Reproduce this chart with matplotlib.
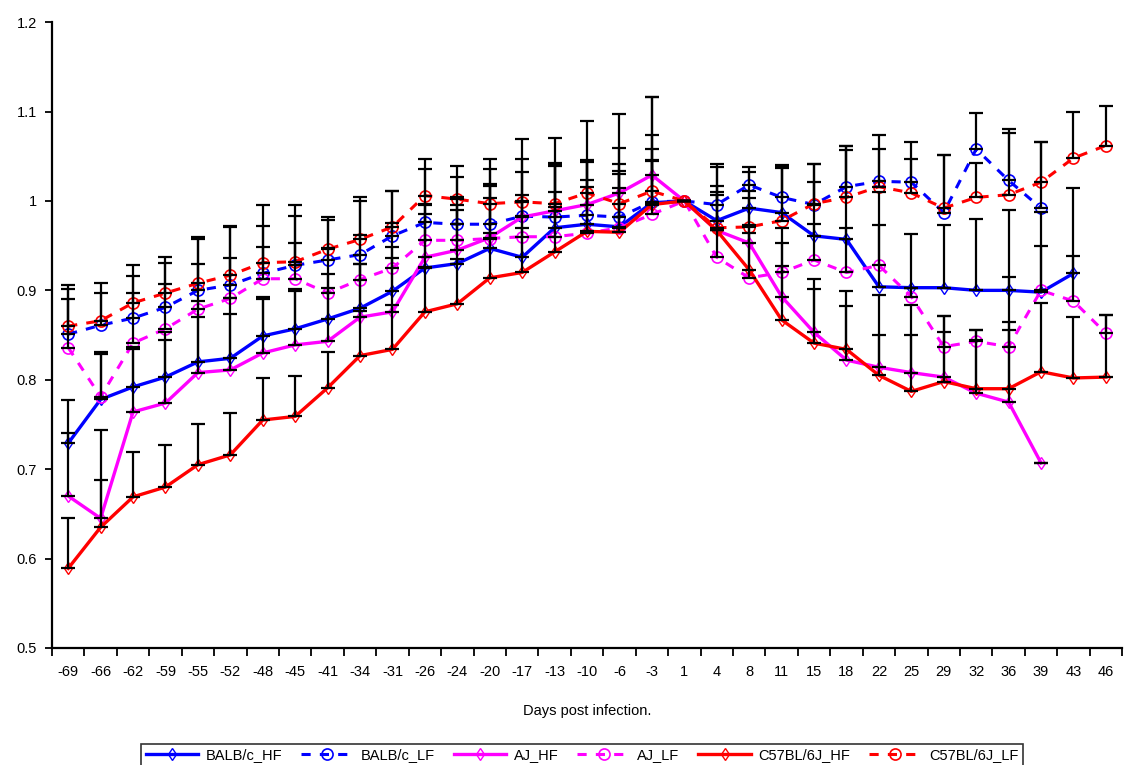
import numpy as np
import matplotlib
matplotlib.use("Agg")
import matplotlib.pyplot as plt

plt.rcParams['font.family'] = ['Liberation Sans', 'DejaVu Sans']

days = ['-69', '-66', '-62', '-59', '-55', '-52', '-48', '-45', '-41', '-34', '-31',
        '-26', '-24', '-20', '-17', '-13', '-10', '-6', '-3', '1', '4', '8', '11',
        '15', '18', '22', '25', '29', '32', '36', '39', '43', '46']
nan = np.nan

balb_hf = [0.729, 0.778, 0.792, 0.803, 0.820, 0.824, 0.849, 0.857, 0.868, 0.880, 0.899,
           0.925, 0.930, 0.947, 0.937, 0.970, 0.974, 0.971, 0.998, 1.000, 0.978, 0.992,
           0.987, 0.961, 0.957, 0.904, 0.903, 0.903, 0.900, 0.900, 0.898, 0.919, nan]
balb_lf = [0.851, 0.861, 0.869, 0.881, 0.900, 0.906, 0.919, 0.928, 0.934, 0.940, 0.961,
           0.976, 0.974, 0.974, 0.983, 0.982, 0.984, 0.982, 0.999, 1.000, 0.996, 1.018,
           1.004, 0.996, 1.016, 1.022, 1.021, 0.987, 1.058, 1.023, 0.992, nan, nan]
aj_hf = [0.670, 0.645, 0.764, 0.774, 0.808, 0.811, 0.830, 0.839, 0.843, 0.870, 0.876,
         0.937, 0.945, 0.959, 0.982, 0.989, 0.996, 1.009, 1.029, 1.000, 0.967, 0.953,
         0.893, 0.853, 0.822, 0.814, 0.808, 0.803, 0.785, 0.775, 0.707, nan, nan]
aj_lf = [0.836, 0.781, 0.841, 0.857, 0.879, 0.891, 0.913, 0.913, 0.897, 0.912, 0.925,
         0.956, 0.956, 0.958, 0.960, 0.960, 0.964, 0.970, 0.985, 1.000, 0.937, 0.914,
         0.920, 0.934, 0.920, 0.928, 0.893, 0.837, 0.843, 0.837, 0.900, 0.888, 0.852]
c57_hf = [0.589, 0.635, 0.669, 0.680, 0.705, 0.716, 0.755, 0.759, 0.791, 0.827, 0.834,
          0.876, 0.885, 0.914, 0.920, 0.943, 0.966, 0.965, 0.996, 1.000, 0.967, 0.923,
          0.867, 0.841, 0.834, 0.805, 0.787, 0.798, 0.790, 0.790, 0.809, 0.802, 0.803]
c57_lf = [0.860, 0.866, 0.886, 0.897, 0.908, 0.917, 0.931, 0.932, 0.946, 0.957, 0.971,
          1.006, 1.002, 0.997, 0.999, 0.997, 1.009, 0.997, 1.011, 1.000, 0.970, 0.971,
          0.978, 0.997, 1.004, 1.016, 1.009, 0.992, 1.004, 1.007, 1.021, 1.048, 1.062]

# upper error bars (estimated from the caps)
balb_hf_err = [0.048, 0.051, 0.045, 0.050, 0.050, 0.050, 0.044, 0.045, 0.050, 0.050, 0.050,
               0.060, 0.060, 0.070, 0.070, 0.070, 0.070, 0.070, 0.060, 0.0, 0.060, 0.040,
               0.050, 0.060, 0.100, 0.106, 0.060, 0.070, 0.080, 0.090, 0.090, 0.095, nan]
balb_lf_err = [0.051, 0.036, 0.047, 0.050, 0.060, 0.065, 0.053, 0.055, 0.045, 0.060, 0.050,
               0.060, 0.053, 0.062, 0.064, 0.061, 0.061, 0.051, 0.075, 0.0, 0.045, 0.020,
               0.036, 0.045, 0.045, 0.052, 0.045, 0.064, 0.040, 0.057, 0.074, nan, nan]
aj_hf_err = [0.071, 0.099, 0.070, 0.070, 0.080, 0.080, 0.060, 0.060, 0.060, 0.060, 0.060,
             0.060, 0.060, 0.060, 0.050, 0.050, 0.050, 0.050, 0.087, 0.0, 0.050, 0.050,
             0.060, 0.060, 0.060, 0.081, 0.042, 0.050, 0.060, 0.090, 0.0, nan, nan]
aj_lf_err = [0.054, 0.050, 0.056, 0.050, 0.050, 0.045, 0.036, 0.040, 0.050, 0.050, 0.050,
             0.040, 0.040, 0.045, 0.040, 0.050, 0.060, 0.060, 0.060, 0.0, 0.030, 0.050,
             0.050, 0.040, 0.050, 0.045, 0.010, 0.034, 0.013, 0.078, 0.050, 0.050, 0.021]
c57_hf_err = [0.056, 0.053, 0.050, 0.047, 0.045, 0.047, 0.047, 0.045, 0.040, 0.050, 0.050,
              0.050, 0.050, 0.050, 0.050, 0.050, 0.050, 0.050, 0.050, 0.0, 0.040, 0.050,
              0.060, 0.060, 0.065, 0.045, 0.097, 0.073, 0.066, 0.066, 0.077, 0.068, 0.070]
c57_lf_err = [0.046, 0.042, 0.042, 0.040, 0.050, 0.055, 0.065, 0.063, 0.036, 0.047, 0.040,
              0.041, 0.037, 0.050, 0.070, 0.074, 0.080, 0.100, 0.105, 0.0, 0.040, 0.040,
              0.060, 0.044, 0.058, 0.042, 0.038, 0.059, 0.038, 0.069, 0.045, 0.052, 0.044]

series = [
    ('BALB/c_HF', balb_hf, balb_hf_err, '#0000ff', '-', 'd'),
    ('BALB/c_LF', balb_lf, balb_lf_err, '#0000ff', '--', 'o'),
    ('AJ_HF', aj_hf, aj_hf_err, '#ff00ff', '-', 'd'),
    ('AJ_LF', aj_lf, aj_lf_err, '#ff00ff', '--', 'o'),
    ('C57BL/6J_HF', c57_hf, c57_hf_err, '#ff0000', '-', 'd'),
    ('C57BL/6J_LF', c57_lf, c57_lf_err, '#ff0000', '--', 'o'),
]

fig = plt.figure(figsize=(11.3, 7.65), dpi=100)
ax = fig.add_axes([0.046, 0.153, 0.947, 0.818])
x = np.arange(len(days))

for name, vals, err, col, ls, mk in series:
    vals = np.array(vals)
    err = np.array(err)
    ax.errorbar(x, vals, yerr=[np.zeros_like(err), err], fmt='none', ecolor='black',
                elinewidth=1.6, capsize=5, capthick=1.6, zorder=3)
    if mk == 'd':
        ax.plot(x, vals, color=col, ls=ls, lw=2.4, marker='d', ms=6, mfc='none',
                mec=col, mew=1.0, label=name, zorder=2)
    else:
        ax.plot(x, vals, color=col, ls=ls, lw=2.2, dashes=(3, 3), marker='o', ms=8,
                mfc='none', mec=col, mew=1.2, label=name, zorder=2)

ax.set_xlim(-0.5, len(days) - 0.5)
ax.set_ylim(0.5, 1.2)
ax.set_xticks(x)
ax.set_xticklabels(days, fontsize=10.5)
ax.set_xticks(np.arange(-0.5, len(days), 1), minor=True)
ax.tick_params(axis='x', which='major', length=0, pad=12)
ax.tick_params(axis='x', which='minor', length=6, width=1.3, direction='out')
ax.set_yticks([0.5, 0.6, 0.7, 0.8, 0.9, 1.0, 1.1, 1.2])
ax.set_yticklabels(['0.5', '0.6', '0.7', '0.8', '0.9', '1', '1.1', '1.2'], fontsize=10.5)
ax.tick_params(axis='y', length=5, width=1.3, direction='out', pad=6)
for s in ['top', 'right']:
    ax.spines[s].set_visible(False)
for s in ['left', 'bottom']:
    ax.spines[s].set_linewidth(1.6)
ax.set_xlabel('Days post infection.', fontsize=10.5, labelpad=18)

leg = fig.legend(loc='upper center', bbox_to_anchor=(0.515, 0.037), ncol=6,
                 frameon=True, fancybox=False, edgecolor='black', fontsize=10.5,
                 handlelength=3.6, columnspacing=1.3, handletextpad=0.5,
                 borderpad=0.3)
leg.get_frame().set_linewidth(1.2)

fig.savefig('out.png', dpi=100)
